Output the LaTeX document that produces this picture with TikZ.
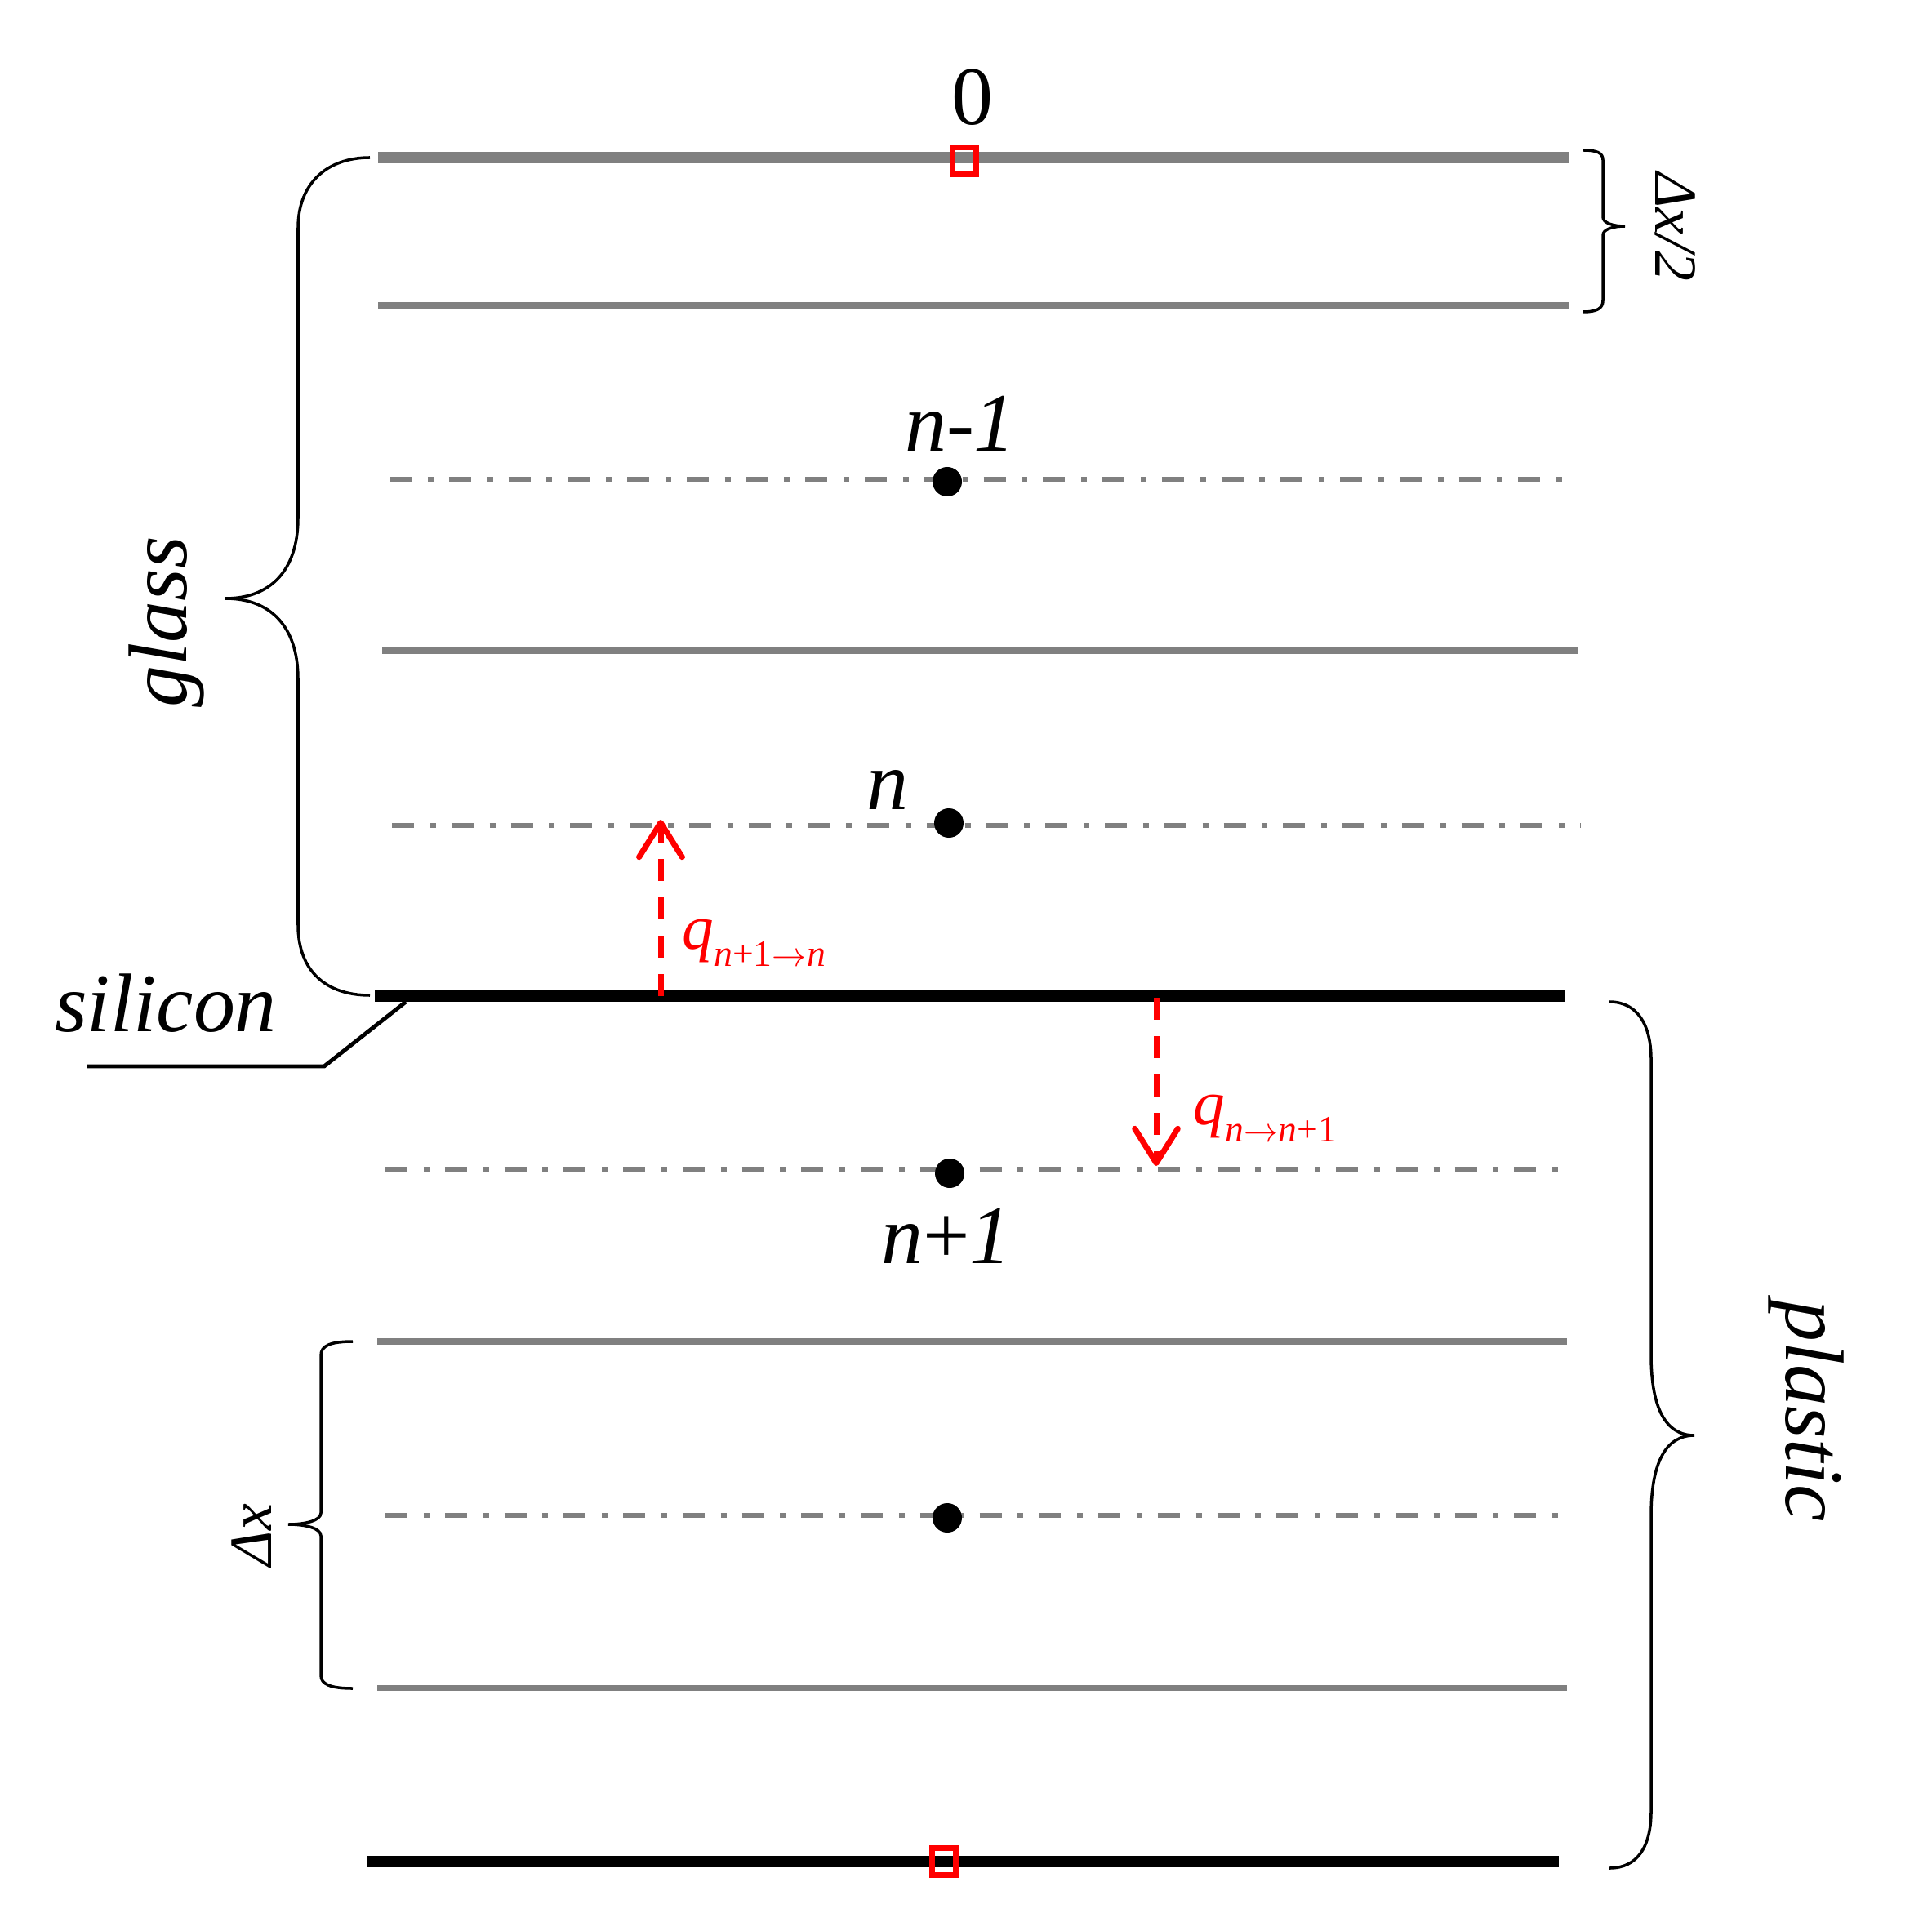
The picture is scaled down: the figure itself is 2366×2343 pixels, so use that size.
\documentclass[tikz,border=0pt]{standalone}
\usepackage{fontspec}
\setmainfont{Liberation Serif}[ItalicFont={Liberation Serif Italic},BoldFont={Liberation Serif Bold}]
\usetikzlibrary{arrows.meta}
\definecolor{lgray}{RGB}{128,128,128}
\tikzset{
  thickgray/.style={draw=lgray,line width=4pt},
  thingray/.style={draw=lgray,line width=2pt},
  thickblack/.style={draw=black,line width=4pt},
  dashdot/.style={draw=lgray,line width=1.7pt,dash pattern=on 7.7pt off 5.6pt on 2pt off 5.4pt},
  bracepath/.style={draw=black,line width=1pt},
  dotnode/.style={circle,fill=black,inner sep=0pt,minimum size=36*0.1mm},
  redsq/.style={draw=red,line width=2pt,minimum width=29*0.1mm,minimum height=33*0.1mm,inner sep=0pt},
  flow/.style={draw=red,line width=2pt,dash pattern=on 7.7pt off 5.7pt,-{Straight Barb[length=12pt,width=15pt,line cap=round,line join=round]}},
  big/.style={font=\fontsize{29pt}{29pt}\selectfont},
  mid/.style={font=\fontsize{21pt}{21pt}\selectfont},
  qlab/.style={text=red,inner sep=0pt}
}
\newcommand{\subarr}{\hbox{\fontsize{13pt}{13pt}\selectfont$\rightarrow$}}
\begin{document}
\begin{tikzpicture}[x=0.1mm,y=-0.1mm]
\useasboundingbox (0,0) rectangle (2366,2343);
% coordinates of layer lines
\coordinate (a0) at (463,193);  \coordinate (b0) at (1921,193);
\coordinate (a1) at (463,374);  \coordinate (b1) at (1921,374);
\coordinate (a2) at (477,587);  \coordinate (b2) at (1933,587);
\coordinate (a3) at (468,797);  \coordinate (b3) at (1933,797);
\coordinate (a4) at (480,1011); \coordinate (b4) at (1936,1011);
\coordinate (a5) at (459,1220); \coordinate (b5) at (1916,1220);
\coordinate (a6) at (472,1432); \coordinate (b6) at (1928,1432);
\coordinate (a7) at (462,1643); \coordinate (b7) at (1919,1643);
\coordinate (a8) at (472,1856); \coordinate (b8) at (1928,1856);
\coordinate (a9) at (462,2067); \coordinate (b9) at (1919,2067);
\coordinate (a10) at (450,2280); \coordinate (b10) at (1909,2280);

\draw[thickgray] (a0) -- (b0);
\draw[thingray] (a1) -- (b1);
\draw[dashdot] (a2) -- (b2);
\draw[thingray] (a3) -- (b3);
\draw[dashdot] (a4) -- (b4);
\draw[dashdot] (a6) -- (b6);
\draw[thingray] (a7) -- (b7);
\draw[dashdot] (a8) -- (b8);
\draw[thingray] (a9) -- (b9);
\draw[thickblack] (a5) -- (b5);
\draw[thickblack] (a10) -- (b10);

% markers
\node[redsq] (sq0) at (1181,197) {};
\node[redsq] (sq1) at (1156,2280) {};
\node[dotnode] (d1) at (1160,590) {};
\node[dotnode] (d2) at (1162,1008) {};
\node[dotnode] (d3) at (1163,1437) {};
\node[dotnode] (d4) at (1160,1859) {};

% labels
\node[big,anchor=base] (l0) at (1191,153) {0};
\node[big,anchor=base] (lnm) at (1176,553) {\textit{n-1}};
\node[big,anchor=base] (ln) at (1087,991) {\textit{n}};
\node[big,anchor=base] (lnp) at (1159,1547) {\textit{n}+\textit{1}};
\node[big,anchor=base] (lsil) at (203,1263) {\textit{silicon}};
\node[big,rotate=90] (lglass) at (204,762) {\textit{glass}};
\node[big,rotate=-90] (lplastic) at (2212,1728) {\textit{plastic}};
\node[mid,rotate=-90] (ldx2) at (2052,278) {\textit{Δx/2}};
\node[mid,rotate=90] (ldx) at (308,1880) {\textit{Δx}};

% silicon leader
\coordinate (s0) at (107,1306);
\coordinate (s1) at (397,1306);
\coordinate (s2) at (497,1227);
\draw[line width=1.4pt] (s0) -- (s1) -- (s2);

% braces
\draw[bracepath] (453,193) .. controls (400,193) and (365,225) .. (365,279)
  -- (365,634) .. controls (365,700) and (330,733) .. (276,733)
  .. controls (330,733) and (365,766) .. (365,832)
  -- (365,1133) .. controls (365,1190) and (400,1219) .. (453,1219);
\draw[bracepath] (1971,1227) .. controls (2005,1227) and (2022,1255) .. (2022,1298)
  -- (2022,1660) .. controls (2022,1725) and (2040,1758) .. (2075,1758)
  .. controls (2040,1758) and (2022,1791) .. (2022,1856)
  -- (2022,2218) .. controls (2022,2262) and (2005,2288) .. (1971,2288);
\draw[bracepath] (1939,184) .. controls (1955,184) and (1963,187) .. (1963,196)
  -- (1963,266) .. controls (1963,273) and (1975,277) .. (1990,277)
  .. controls (1975,277) and (1963,281) .. (1963,288)
  -- (1963,368) .. controls (1963,378) and (1955,382) .. (1939,382);
\draw[bracepath] (432,1643) .. controls (405,1643) and (393,1648) .. (393,1660)
  -- (393,1853) .. controls (393,1862) and (375,1867) .. (353,1867)
  .. controls (375,1867) and (393,1872) .. (393,1881)
  -- (393,2052) .. controls (393,2063) and (405,2068) .. (432,2068);

% heat flows
\coordinate (f1s) at (809,1220);
\coordinate (f1e) at (809,1004);
\coordinate (f2s) at (1416,1222);
\coordinate (f2e) at (1416,1428);
\draw[flow] (f1s) -- (f1e);
\draw[flow] (f2s) -- (f2e);
\node[qlab,anchor=base west] (q1) at (835,1162) {\fontsize{22pt}{22pt}\selectfont\textit{q}\raisebox{-6pt}{\fontsize{13pt}{13pt}\selectfont\textit{n}+1\subarr\textit{n}}};
\node[qlab,anchor=base west] (q2) at (1461,1377) {\fontsize{22pt}{22pt}\selectfont\textit{q}\raisebox{-6pt}{\fontsize{13pt}{13pt}\selectfont\textit{n}\subarr\textit{n}+1}};
\end{tikzpicture}
\end{document}
